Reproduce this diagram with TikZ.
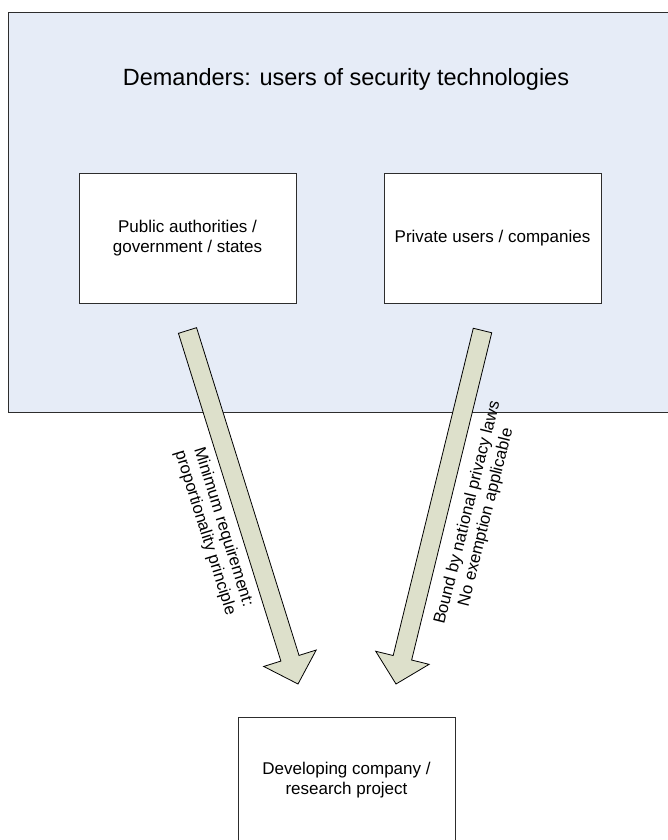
\documentclass[tikz,border=0pt]{standalone}
\usepackage{fontspec}
\setmainfont{Liberation Sans}
\usetikzlibrary{calc}

\definecolor{demfill}{RGB}{230,236,247}
\definecolor{flowfill}{RGB}{221,224,203}
\definecolor{edgegray}{RGB}{45,45,45}

% wide block arrow from #1 to #2; #3 names the point where the head begins
\newcommand\fatflow[3]{%
  \coordinate (#3) at ($(#2)!27pt!(#1)$);
  \draw[flow]
    ($(#1)!9.5pt!90:(#2)$) --
    ($(#3)!9.5pt!90:(#2)$) --
    ($(#3)!27.5pt!90:(#2)$) --
    (#2) --
    ($(#3)!27.5pt!-90:(#2)$) --
    ($(#3)!9.5pt!-90:(#2)$) --
    ($(#1)!9.5pt!-90:(#2)$) -- cycle;
}

\begin{document}
\begin{tikzpicture}[x=1pt,y=-1pt,
  box/.style={draw=edgegray, line width=1pt, fill=white,
    minimum width=217pt, minimum height=130pt, inner sep=0pt,
    align=center, font=\fontsize{17}{20}\selectfont},
  flow/.style={draw=black, line width=0.8pt, fill=flowfill, line join=miter},
  flowlabel/.style={align=center, inner sep=0pt,
    font=\fontsize{16.7}{19}\selectfont}]

\useasboundingbox (0,0) rectangle (668,840);
\clip (0,0) rectangle (668,840);

% group of demanders
\node[draw=edgegray, line width=1.2pt, fill=demfill, anchor=north west,
      minimum width=680pt, minimum height=400pt, inner sep=0pt]
      (demanders) at (8,12) {};
\node[font=\fontsize{23.5}{27}\selectfont] (title) at (346,79)
      {Demanders: users of security technologies};

\node[box] (public) at (187.5,238) {Public authorities /\\government / states};
\node[box] (private) at (492.5,238) {Private users / companies};

\node[box, minimum height=126pt] (developer) at (346.5,780)
      {Developing company /\\research project};

% requirement flows
\coordinate (pubStart) at (187.5,330.5);
\coordinate (pubTip) at (298,684);
\coordinate (privStart) at (482.5,330.5);
\coordinate (privTip) at (396,684);

\fatflow{pubStart}{pubTip}{pubBase}
\fatflow{privStart}{privTip}{privBase}

\node[flowlabel, rotate=-72.6] (pubLabel) at (214,530)
      {Minimum requirement:\\proportionality principle};
\node[flowlabel, rotate=76] (privLabel) at (477,515)
      {Bound by national privacy laws\\No exemption applicable};

\end{tikzpicture}
\end{document}
